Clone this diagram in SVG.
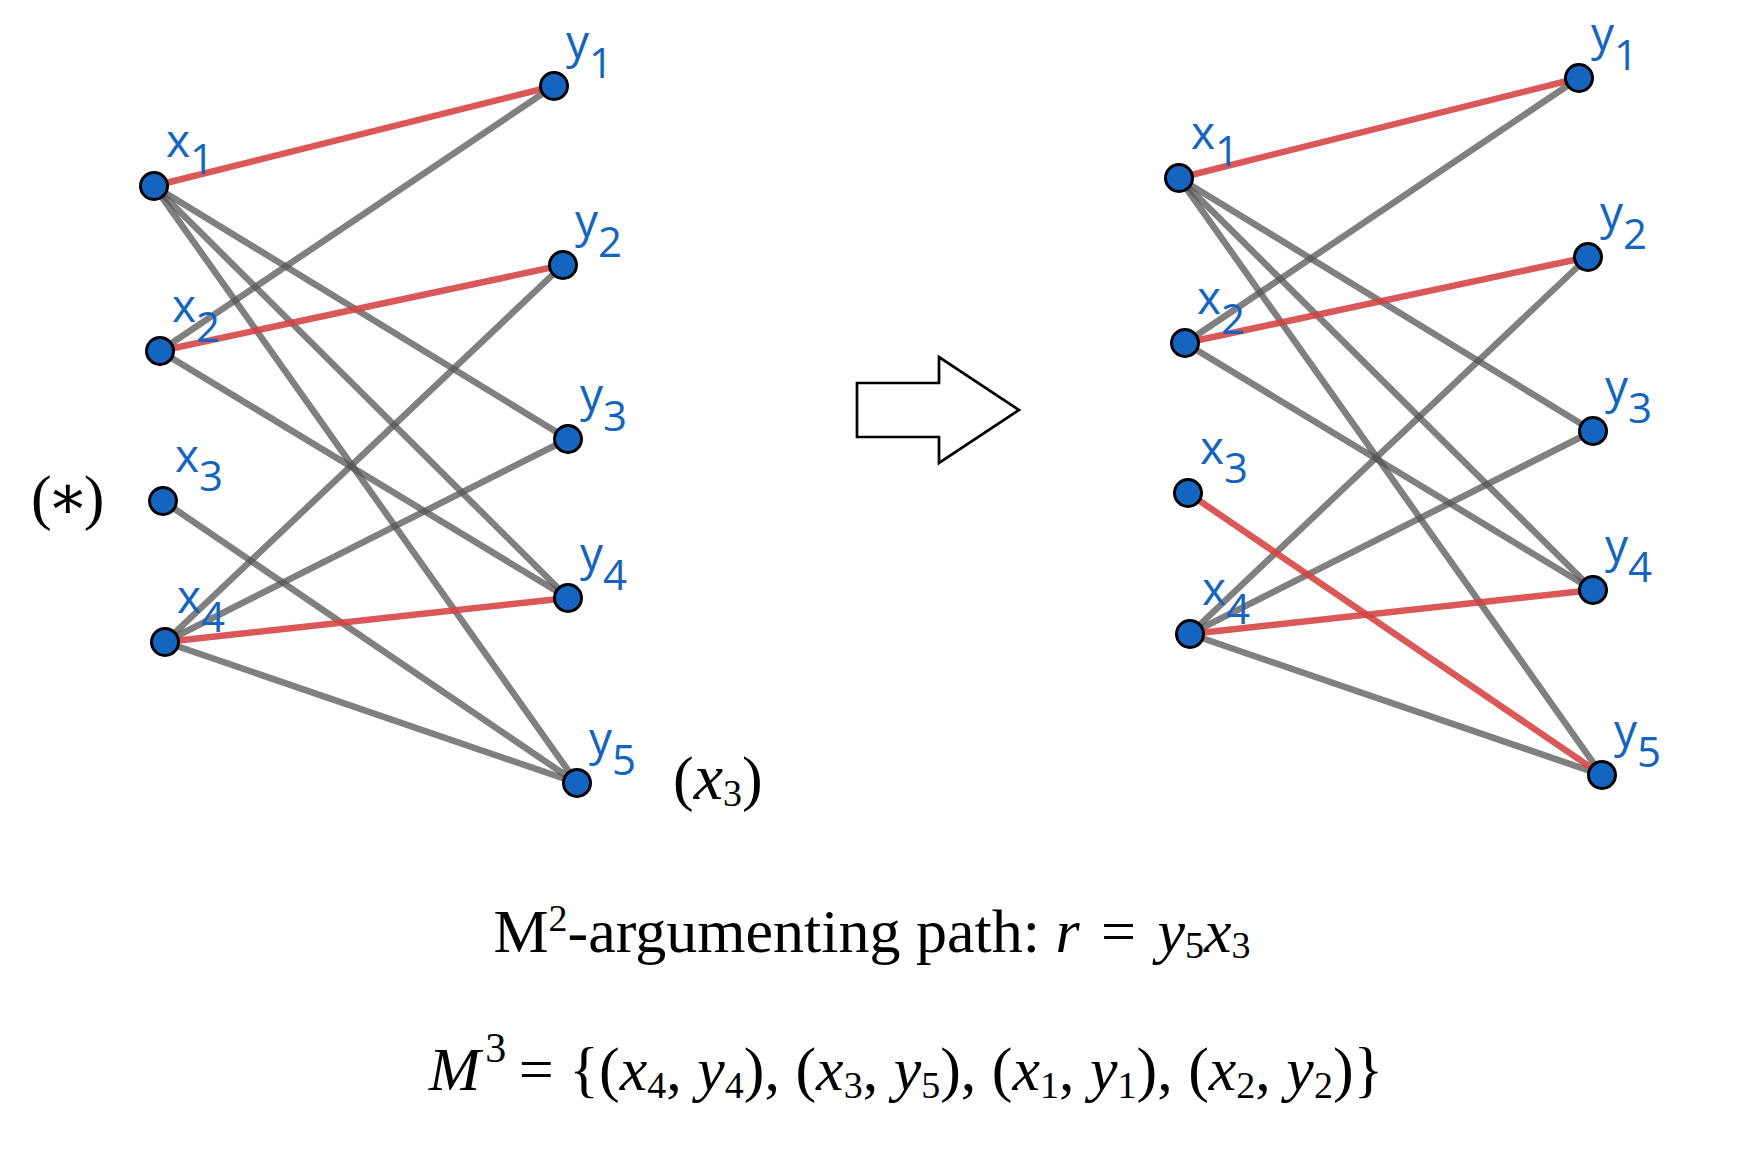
<svg xmlns="http://www.w3.org/2000/svg" width="1754" height="1160" viewBox="0 0 1754 1160">
<style>
.bg{fill:#ffffff}
.e{stroke:#555555;stroke-opacity:0.75;stroke-width:6.5;fill:none;stroke-linecap:butt}
.m{stroke:#d54141;stroke-opacity:0.88;stroke-width:6.5;fill:none}
.n{fill:#1565c0;stroke:#000000;stroke-width:3}
.lbl{font-family:"Open Sans","Noto Sans","DejaVu Sans",sans-serif;font-size:46px;fill:#1565c0}
.sub{font-size:42px}
.tex{font-family:"Liberation Serif","DejaVu Serif",serif;font-size:62px;fill:#000000}
.it{font-style:italic}
.s{font-size:38px}
.arrow{fill:#ffffff;stroke:#000000;stroke-width:2.7}
</style>
<rect class="bg" x="0" y="0" width="1754" height="1160"/>

<g id="connectors">
  <!-- left graph -->
  <line class="e" x1="154" y1="186" x2="568" y2="439"/>
  <line class="e" x1="154" y1="186" x2="568" y2="598"/>
  <line class="e" x1="154" y1="186" x2="577" y2="783"/>
  <line class="e" x1="160" y1="351" x2="554" y2="86"/>
  <line class="e" x1="160" y1="351" x2="568" y2="598"/>
  <line class="e" x1="163" y1="501" x2="577" y2="783"/>
  <line class="e" x1="165" y1="642" x2="563" y2="265"/>
  <line class="e" x1="165" y1="642" x2="568" y2="439"/>
  <line class="e" x1="165" y1="642" x2="577" y2="783"/>
  <line class="m" x1="154" y1="186" x2="554" y2="86"/>
  <line class="m" x1="160" y1="351" x2="563" y2="265"/>
  <line class="m" x1="165" y1="642" x2="568" y2="598"/>
  <!-- right graph -->
  <line class="e" x1="1179" y1="178" x2="1593" y2="431"/>
  <line class="e" x1="1179" y1="178" x2="1593" y2="590"/>
  <line class="e" x1="1179" y1="178" x2="1602" y2="775"/>
  <line class="e" x1="1185" y1="343" x2="1579" y2="78"/>
  <line class="e" x1="1185" y1="343" x2="1593" y2="590"/>
  <line class="e" x1="1190" y1="634" x2="1588" y2="257"/>
  <line class="e" x1="1190" y1="634" x2="1593" y2="431"/>
  <line class="e" x1="1190" y1="634" x2="1602" y2="775"/>
  <line class="m" x1="1179" y1="178" x2="1579" y2="78"/>
  <line class="m" x1="1185" y1="343" x2="1588" y2="257"/>
  <line class="m" x1="1190" y1="634" x2="1593" y2="590"/>
  <line class="m" x1="1188" y1="493" x2="1602" y2="775"/>
</g>

<!-- left graph nodes -->
<g id="L-x1"><circle class="n" cx="154" cy="186" r="13.5"/><text class="lbl" x="166" y="157">x<tspan class="sub" dy="17">1</tspan></text></g>
<g id="L-x2"><circle class="n" cx="160" cy="351" r="13.5"/><text class="lbl" x="172" y="322">x<tspan class="sub" dy="20">2</tspan></text></g>
<g id="L-x3"><circle class="n" cx="163" cy="501" r="13.5"/><text class="lbl" x="175" y="472">x<tspan class="sub" dy="19">3</tspan></text></g>
<g id="L-x4"><circle class="n" cx="165" cy="642" r="13.5"/><text class="lbl" x="177" y="613">x<tspan class="sub" dy="19">4</tspan></text></g>
<g id="L-y1"><circle class="n" cx="554" cy="86" r="13.5"/><text class="lbl" x="566" y="58">y<tspan class="sub" dy="20">1</tspan></text></g>
<g id="L-y2"><circle class="n" cx="563" cy="265" r="13.5"/><text class="lbl" x="575" y="237">y<tspan class="sub" dy="20">2</tspan></text></g>
<g id="L-y3"><circle class="n" cx="568" cy="439" r="13.5"/><text class="lbl" x="580" y="411">y<tspan class="sub" dy="20">3</tspan></text></g>
<g id="L-y4"><circle class="n" cx="568" cy="598" r="13.5"/><text class="lbl" x="580" y="570">y<tspan class="sub" dy="20">4</tspan></text></g>
<g id="L-y5"><circle class="n" cx="577" cy="783" r="13.5"/><text class="lbl" x="589" y="755">y<tspan class="sub" dy="20">5</tspan></text></g>

<!-- right graph nodes -->
<g id="R-x1"><circle class="n" cx="1179" cy="178" r="13.5"/><text class="lbl" x="1191" y="149">x<tspan class="sub" dy="17">1</tspan></text></g>
<g id="R-x2"><circle class="n" cx="1185" cy="343" r="13.5"/><text class="lbl" x="1197" y="314">x<tspan class="sub" dy="20">2</tspan></text></g>
<g id="R-x3"><circle class="n" cx="1188" cy="493" r="13.5"/><text class="lbl" x="1200" y="464">x<tspan class="sub" dy="19">3</tspan></text></g>
<g id="R-x4"><circle class="n" cx="1190" cy="634" r="13.5"/><text class="lbl" x="1202" y="605">x<tspan class="sub" dy="19">4</tspan></text></g>
<g id="R-y1"><circle class="n" cx="1579" cy="78" r="13.5"/><text class="lbl" x="1591" y="50">y<tspan class="sub" dy="20">1</tspan></text></g>
<g id="R-y2"><circle class="n" cx="1588" cy="257" r="13.5"/><text class="lbl" x="1600" y="229">y<tspan class="sub" dy="20">2</tspan></text></g>
<g id="R-y3"><circle class="n" cx="1593" cy="431" r="13.5"/><text class="lbl" x="1605" y="403">y<tspan class="sub" dy="20">3</tspan></text></g>
<g id="R-y4"><circle class="n" cx="1593" cy="590" r="13.5"/><text class="lbl" x="1605" y="562">y<tspan class="sub" dy="20">4</tspan></text></g>
<g id="R-y5"><circle class="n" cx="1602" cy="775" r="13.5"/><text class="lbl" x="1614" y="747">y<tspan class="sub" dy="20">5</tspan></text></g>

<!-- annotations -->
<text class="tex" x="31" y="518" font-size="58" letter-spacing="-5">(∗)</text>
<text class="tex" x="673" y="799" xml:space="preserve">(<tspan class="it" font-size="66">x</tspan><tspan class="s" dy="7">3</tspan><tspan dy="-7">)</tspan></text>

<g id="arrow">
  <polygon class="arrow" points="857,383 939,383 939,357 1019,410 939,463 939,437 857,437"/>
</g>

<text class="tex" x="872" y="952" text-anchor="middle" xml:space="preserve">M<tspan font-size="38" dy="-21">2</tspan><tspan dy="21">-argumenting path: </tspan><tspan class="it">r</tspan><tspan dx="6"> = </tspan><tspan class="it" dx="6">y</tspan><tspan class="s" dy="6">5</tspan><tspan class="it" dy="-6">x</tspan><tspan class="s" dy="6">3</tspan></text>

<text class="tex" x="906" y="1090" text-anchor="middle" xml:space="preserve"><tspan class="it">M</tspan><tspan font-size="42" dy="-28" dx="5">3</tspan><tspan dy="28" dx="-3"> = </tspan><tspan>{(</tspan><tspan class="it">x</tspan><tspan class="s" dy="8">4</tspan><tspan dy="-8">, </tspan><tspan class="it">y</tspan><tspan class="s" dy="8">4</tspan><tspan dy="-8">), (</tspan><tspan class="it">x</tspan><tspan class="s" dy="8">3</tspan><tspan dy="-8">, </tspan><tspan class="it">y</tspan><tspan class="s" dy="8">5</tspan><tspan dy="-8">), (</tspan><tspan class="it">x</tspan><tspan class="s" dy="8">1</tspan><tspan dy="-8">, </tspan><tspan class="it">y</tspan><tspan class="s" dy="8">1</tspan><tspan dy="-8">), (</tspan><tspan class="it">x</tspan><tspan class="s" dy="8">2</tspan><tspan dy="-8">, </tspan><tspan class="it">y</tspan><tspan class="s" dy="8">2</tspan><tspan dy="-8">)}</tspan></text>
</svg>
